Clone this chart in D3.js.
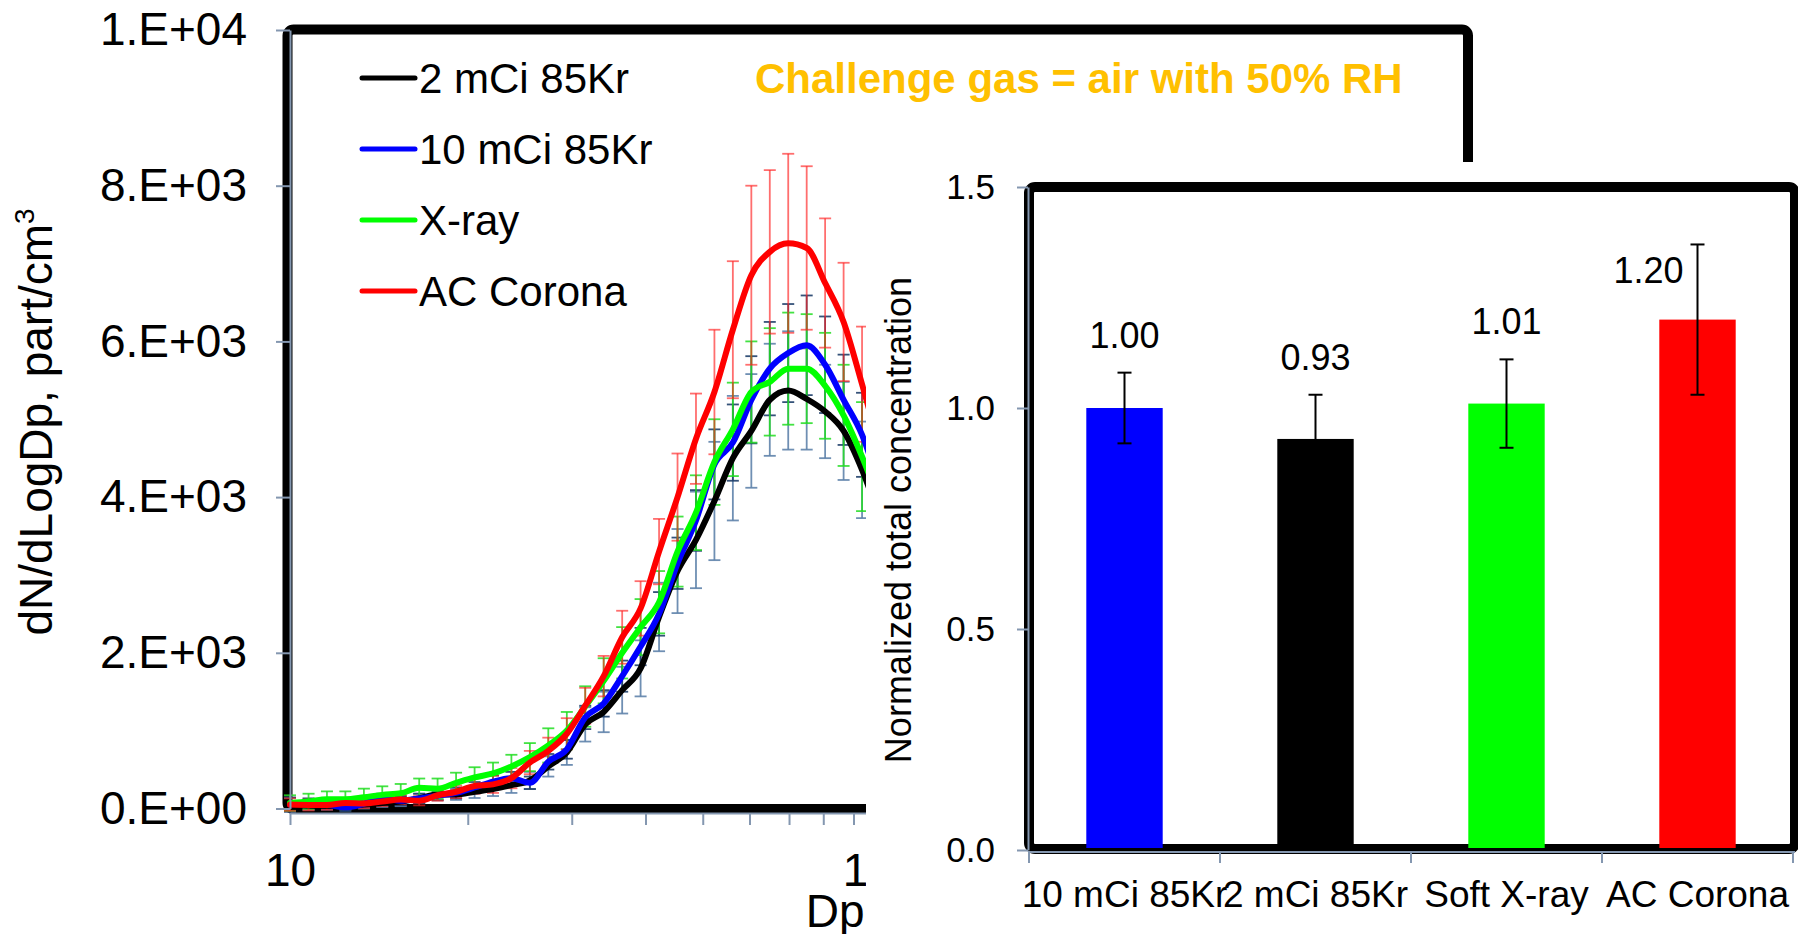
<!DOCTYPE html>
<html>
<head>
<meta charset="utf-8">
<script src="https://cdn.jsdelivr.net/npm/d3@7"></script>
<style>
  body { margin: 0; background: #fff; }
  svg { display: block; font-family: "Liberation Sans", Arial, sans-serif; }
</style>
</head>
<body>
<svg id="chart"></svg>
<script>
// ---- size distribution data (left panel) ----
var diameters = [10.00, 10.75, 11.55, 12.41, 13.34, 14.33, 15.40, 16.55, 17.78, 19.11,
  20.54, 22.07, 23.71, 25.48, 27.38, 29.43, 31.62, 33.98, 36.52, 39.24, 42.17, 45.32,
  48.70, 52.33, 56.23, 60.43, 64.94, 69.78, 74.99, 80.58, 86.60, 93.06, 100.0];

var kr2 = [50, 40, 35, 35, 50, 70, 90, 130, 180, 180, 215, 250, 300, 360, 540, 720,
  1080, 1240, 1520, 1800, 2460, 3050, 3450, 3950, 4500, 4850, 5250, 5370, 5260, 5100,
  4850, 4350, 3700];
var kr2Err = [90, 60, 50, 50, 50, 50, 60, 60, 70, 70, 80, 90, 100, 110, 130, 160, 220,
  260, 300, 360, 440, 540, 620, 760, 800, 730, 720, 760, 650, 600, 630, 620, 560];

var kr10 = [50, 70, 50, 15, 60, 130, 100, 130, 165, 200, 270, 345, 390, 330, 600, 760,
  1170, 1350, 1700, 2080, 2500, 3150, 3700, 4420, 4700, 5250, 5650, 5850, 5950, 5700,
  5250, 4800, 4100];
var kr10Err = [90, 60, 50, 50, 50, 60, 60, 60, 60, 70, 70, 80, 80, 80, 100, 120, 150,
  170, 200, 240, 280, 330, 390, 450, 490, 560, 600, 630, 640, 620, 580, 540, 480];

var xray = [70, 90, 120, 120, 145, 175, 195, 265, 255, 330, 400, 450, 540, 660, 810,
  1000, 1310, 1640, 2000, 2330, 2650, 3300, 3800, 4450, 4870, 5350, 5480, 5650, 5650,
  5430, 5050, 4520, 3900];
var xrayErr = [100, 100, 100, 100, 110, 110, 120, 120, 130, 130, 130, 140, 150, 180,
  220, 240, 260, 290, 330, 360, 400, 450, 480, 550, 600, 650, 690, 720, 700, 680, 650,
  700, 650];

var corona = [50, 45, 45, 70, 65, 90, 115, 100, 170, 215, 290, 310, 390, 590, 740, 960,
  1320, 1700, 2200, 2570, 3300, 4000, 4750, 5350, 6150, 6850, 7150, 7260, 7200, 6750,
  6250, 5450, 4600];
var coronaErr = [80, 70, 60, 60, 60, 60, 60, 60, 70, 80, 100, 110, 130, 150, 170, 200,
  230, 260, 340, 350, 420, 560, 580, 800, 880, 1150, 1050, 1150, 1050, 830, 760, 740, 700];

var seriesNames = ["2 mCi 85Kr", "10 mCi 85Kr", "X-ray", "AC Corona"];
var yTicks = [0, 2000, 4000, 6000, 8000, 10000];
var yTickLabels = ["0.E+00", "2.E+03", "4.E+03", "6.E+03", "8.E+03", "1.E+04"];
var xTicks = [10, 20, 30, 40, 50, 60, 70, 80, 90, 100];
var xLabelTicks = [10, 100];

// ---- normalized totals (inset) ----
var barCats = ["10 mCi 85Kr", "2 mCi 85Kr", "Soft X-ray", "AC Corona"];
var barVals = [1.00, 0.93, 1.01, 1.20];
var barErr = [0.08, 0.10, 0.10, 0.17];
var barTicks = [0, 0.5, 1.0, 1.5];

var axisGray = "#8497b0";

var svg = d3.select("#chart").attr("width", 1798).attr("height", 934);

var series = [
  { name: seriesNames[0], vals: kr2, err: kr2Err, color: "#000000", errColor: "#5f83ab", errOp: 0.9 },
  { name: seriesNames[1], vals: kr10, err: kr10Err, color: "#0000ff", errColor: "#1f3f6a", errOp: 0.9 },
  { name: seriesNames[2], vals: xray, err: xrayErr, color: "#00ff00", errColor: "#22dd22", errOp: 0.85 },
  { name: seriesNames[3], vals: corona, err: coronaErr, color: "#ff0000", errColor: "#ff2020", errOp: 0.65 }
];

var drawLeft = function () {
  var xScale = d3.scaleLog().domain([10, 1000]).range([290, 1471]);
  var yScale = d3.scaleLinear().domain([0, 10000]).range([808.5, 30]);

  var g = svg.append("g").classed("left", true);

  //frame of the plot area
  g.append("rect")
    .attr("x", 287.5).attr("y", 29.5)
    .attr("width", 1180.5).attr("height", 779.5)
    .attr("rx", 6)
    .attr("fill", "none").attr("stroke", "#000").attr("stroke-width", 10);

  //error bars first, lines on top
  var capW = 6;
  series.forEach(function (s) {
    var pts = diameters.map(function (d, i) {
      return { d: d, v: s.vals[i], e: s.err[i] };
    });
    var eb = g.append("g")
      .attr("stroke", s.errColor)
      .attr("stroke-opacity", s.errOp)
      .attr("stroke-width", 1.8);
    var bars = eb.selectAll("g").data(pts).enter().append("g");
    bars.append("line")
      .attr("x1", function (p) { return xScale(p.d); })
      .attr("x2", function (p) { return xScale(p.d); })
      .attr("y1", function (p) { return yScale(p.v - p.e); })
      .attr("y2", function (p) { return yScale(p.v + p.e); });
    bars.append("line")
      .attr("x1", function (p) { return xScale(p.d) - capW; })
      .attr("x2", function (p) { return xScale(p.d) + capW; })
      .attr("y1", function (p) { return yScale(p.v + p.e); })
      .attr("y2", function (p) { return yScale(p.v + p.e); });
    bars.append("line")
      .attr("x1", function (p) { return xScale(p.d) - capW; })
      .attr("x2", function (p) { return xScale(p.d) + capW; })
      .attr("y1", function (p) { return yScale(p.v - p.e); })
      .attr("y2", function (p) { return yScale(p.v - p.e); });
  });

  var line = d3.line()
    .x(function (p) { return xScale(p.d); })
    .y(function (p) { return yScale(p.v); })
    .curve(d3.curveMonotoneX);

  series.forEach(function (s) {
    var pts = diameters.map(function (d, i) { return { d: d, v: s.vals[i] }; });
    g.append("path")
      .datum(pts)
      .attr("d", line)
      .attr("fill", "none")
      .attr("stroke", s.color)
      .attr("stroke-width", 6)
      .attr("stroke-linejoin", "round")
      .attr("stroke-linecap", "round");
  });

  //axes
  var yAxis = d3.axisLeft(yScale)
    .tickValues(yTicks)
    .tickSize(14)
    .tickSizeOuter(0)
    .tickPadding(29)
    .tickFormat(function (v, i) { return yTickLabels[i]; });
  var ya = g.append("g").attr("transform", "translate(290,0)").call(yAxis);
  ya.select(".domain").attr("stroke", axisGray).attr("stroke-width", 2);
  ya.selectAll(".tick line").attr("stroke", axisGray).attr("stroke-width", 2);
  ya.selectAll("text").attr("font-size", 46).attr("fill", "#000")
    .attr("font-family", "Liberation Sans, Arial, sans-serif");

  var xAxis = d3.axisBottom(xScale)
    .tickValues(xTicks)
    .tickSize(12)
    .tickSizeOuter(0)
    .tickPadding(28)
    .tickFormat(function (v) { return xLabelTicks.indexOf(v) >= 0 ? v : ""; });
  var xa = g.append("g").attr("transform", "translate(0,813)").call(xAxis);
  xa.select(".domain").attr("stroke", axisGray).attr("stroke-width", 2);
  xa.selectAll(".tick line").attr("stroke", axisGray).attr("stroke-width", 2);
  xa.selectAll("text").attr("font-size", 46).attr("fill", "#000")
    .attr("font-family", "Liberation Sans, Arial, sans-serif");

  //axis titles
  var yt = g.append("text")
    .attr("text-anchor", "middle")
    .attr("font-size", 46)
    .attr("transform", "translate(52,422) rotate(-90)");
  yt.append("tspan").text("dN/dLogDp, part/cm");
  yt.append("tspan").text("3").attr("font-size", 28).attr("dy", -18);

  g.append("text")
    .text("Dp, nm")
    .attr("x", 880).attr("y", 927)
    .attr("text-anchor", "middle")
    .attr("font-size", 46);

  //legend
  var leg = g.append("g");
  series.forEach(function (s, i) {
    var y = 78 + i * 71;
    leg.append("line")
      .attr("x1", 362).attr("x2", 415)
      .attr("y1", y).attr("y2", y)
      .attr("stroke", s.color).attr("stroke-width", 5)
      .attr("stroke-linecap", "round");
    leg.append("text")
      .text(s.name)
      .attr("x", 419).attr("y", y + 15)
      .attr("font-size", 42);
  });

  g.append("text")
    .text("Challenge gas = air with 50% RH")
    .attr("x", 755).attr("y", 93)
    .attr("font-size", 42)
    .attr("font-weight", "bold")
    .attr("fill", "#ffc000");
};

var drawInset = function () {
  //white panel that hides the right part of the big chart
  svg.append("rect")
    .attr("x", 866).attr("y", 162)
    .attr("width", 932).attr("height", 772)
    .attr("fill", "#fff");

  var g = svg.append("g").classed("inset", true);

  var xBand = d3.scaleBand()
    .domain(barCats)
    .range([1029, 1793])
    .paddingInner(0.6)
    .paddingOuter(0.3);
  var yScale = d3.scaleLinear().domain([0, 1.5]).range([850, 187]);

  g.append("rect")
    .attr("x", 1029).attr("y", 187)
    .attr("width", 766).attr("height", 662)
    .attr("rx", 6)
    .attr("fill", "none").attr("stroke", "#000").attr("stroke-width", 10);

  var barColors = ["#0000ff", "#000000", "#00ff00", "#ff0000"];
  var data = barCats.map(function (c, i) {
    return { cat: c, v: barVals[i], e: barErr[i], color: barColors[i] };
  });

  g.selectAll(".bar").data(data).enter().append("rect")
    .classed("bar", true)
    .attr("x", function (d) { return xBand(d.cat); })
    .attr("width", xBand.bandwidth())
    .attr("y", function (d) { return yScale(d.v); })
    .attr("height", function (d) { return 848 - yScale(d.v); })
    .attr("fill", function (d) { return d.color; });

  //error bars
  var cx = function (d) { return xBand(d.cat) + xBand.bandwidth() / 2; };
  var eb = g.selectAll(".eb").data(data).enter().append("g")
    .classed("eb", true)
    .attr("stroke", "#000").attr("stroke-width", 2);
  eb.append("line")
    .attr("x1", cx).attr("x2", cx)
    .attr("y1", function (d) { return yScale(d.v - d.e); })
    .attr("y2", function (d) { return yScale(d.v + d.e); });
  eb.append("line")
    .attr("x1", function (d) { return cx(d) - 7; })
    .attr("x2", function (d) { return cx(d) + 7; })
    .attr("y1", function (d) { return yScale(d.v + d.e); })
    .attr("y2", function (d) { return yScale(d.v + d.e); });
  eb.append("line")
    .attr("x1", function (d) { return cx(d) - 7; })
    .attr("x2", function (d) { return cx(d) + 7; })
    .attr("y1", function (d) { return yScale(d.v - d.e); })
    .attr("y2", function (d) { return yScale(d.v - d.e); });

  //value labels, the last one sits left of its error bar
  g.selectAll(".val").data(data).enter().append("text")
    .classed("val", true)
    .text(function (d) { return d.v.toFixed(2); })
    .attr("text-anchor", "middle")
    .attr("font-size", 36)
    .attr("x", function (d, i) { return i === 3 ? cx(d) - 49 : cx(d); })
    .attr("y", function (d, i) {
      return i === 3 ? yScale(d.v) - 37 : yScale(d.v + d.e) - 25;
    });

  //axes
  var yAxis = d3.axisLeft(yScale)
    .tickValues(barTicks)
    .tickSize(11)
    .tickSizeOuter(0)
    .tickPadding(22)
    .tickFormat(d3.format(".1f"));
  var ya = g.append("g").attr("transform", "translate(1028,0)").call(yAxis);
  ya.select(".domain").attr("stroke", axisGray).attr("stroke-width", 2);
  ya.selectAll(".tick line").attr("stroke", axisGray).attr("stroke-width", 2);
  ya.selectAll("text").attr("font-size", 35).attr("fill", "#000")
    .attr("font-family", "Liberation Sans, Arial, sans-serif");

  var step = xBand.step();
  var bounds = barCats.map(function (c) {
    return xBand(c) - step * xBand.paddingInner() / 2;
  });
  bounds.push(bounds[bounds.length - 1] + step);
  g.append("line")
    .attr("x1", 1028).attr("x2", 1795)
    .attr("y1", 852).attr("y2", 852)
    .attr("stroke", axisGray).attr("stroke-width", 2);
  g.selectAll(".xt").data(bounds).enter().append("line")
    .attr("x1", function (b) { return b; })
    .attr("x2", function (b) { return b; })
    .attr("y1", 852).attr("y2", 863)
    .attr("stroke", axisGray).attr("stroke-width", 2);

  g.selectAll(".cat").data(barCats).enter().append("text")
    .text(function (c) { return c; })
    .attr("text-anchor", "middle")
    .attr("font-size", 37)
    .attr("x", function (c) { return xBand(c) + xBand.bandwidth() / 2; })
    .attr("y", 907);

  g.append("text")
    .text("Normalized total concentration")
    .attr("text-anchor", "middle")
    .attr("font-size", 36)
    .attr("transform", "translate(911,520) rotate(-90)");
};

drawLeft();
drawInset();
</script>
</body>
</html>
